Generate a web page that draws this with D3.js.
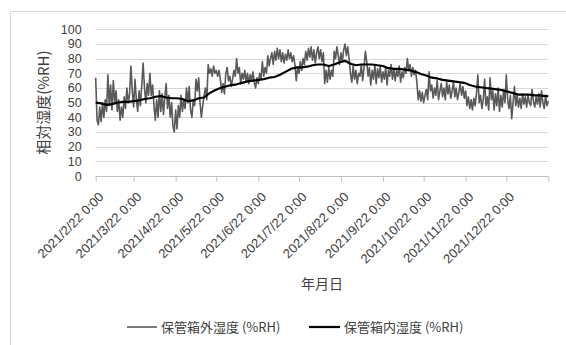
<!DOCTYPE html>
<html><head><meta charset="utf-8">
<script src="https://cdn.jsdelivr.net/npm/d3@7"></script>
<style>
html,body{margin:0;padding:0;background:#fff;}
svg{display:block;}
text{font-family:"Noto Sans CJK JP","Noto Sans",sans-serif;fill:#404040;}
</style></head>
<body><svg id="c" width="566" height="345"></svg>
<script>
// ---- data ----
const startDate = "2021-02-22";
const endDate = "2022-01-22";
const yTicks = [0,10,20,30,40,50,60,70,80,90,100];
const xTickDates = ["2021-02-22","2021-03-22","2021-04-22","2021-05-22","2021-06-22","2021-07-22","2021-08-22","2021-09-22","2021-10-22","2021-11-22","2021-12-22"];
const xTickLabels = ["2021/2/22 0:00","2021/3/22 0:00","2021/4/22 0:00","2021/5/22 0:00","2021/6/22 0:00","2021/7/22 0:00","2021/8/22 0:00","2021/9/22 0:00","2021/10/22 0:00","2021/11/22 0:00","2021/12/22 0:00"];
const seriesNames = ["保管箱外湿度 (%RH)","保管箱内湿度 (%RH)"];
// outside humidity, one value per day from startDate
const outsideValues = [
 67,38,35,47,37,50,40,52,44,69,
 48,62,45,65,50,58,44,52,38,47,
 40,54,46,60,50,56,75,58,47,66,
 52,44,58,48,62,77,60,50,63,55,
 70,55,62,48,38,52,40,58,44,56,
 42,54,63,46,55,40,50,34,30,45,
 32,48,40,55,44,52,46,60,50,61,
 45,40,52,48,66,58,67,50,40,48,
 55,60,52,76,70,73,68,75,70,72,
 68,72,66,57,63,56,70,74,65,68,
 61,66,72,68,80,70,74,63,70,66,
 72,64,70,63,69,65,71,64,60,67,
 63,70,66,78,68,74,70,82,75,80,
 84,76,85,79,87,80,86,78,84,77,
 83,79,86,80,84,78,82,76,65,74,
 70,78,72,80,76,85,79,87,81,88,
 79,86,77,84,88,80,86,78,84,63,
 72,64,74,66,72,68,85,80,88,82,
 76,84,78,86,90,82,88,80,70,64,
 75,66,72,63,70,68,76,65,74,85,
 78,68,74,62,72,66,76,63,73,67,
 75,64,71,66,74,62,72,68,76,66,
 73,65,72,68,75,64,71,67,74,70,
 80,72,76,68,74,69,72,64,52,58,
 51,57,50,55,59,52,71,58,62,53,
 60,55,65,52,58,63,54,60,52,64,
 56,62,53,58,64,54,60,52,57,63,
 55,61,53,58,48,54,46,52,45,53,
 48,56,69,50,55,46,52,66,48,54,
 45,67,52,58,45,56,48,60,44,55,
 47,58,50,69,52,46,55,39,50,61,
 48,55,47,53,46,56,49,54,47,55,
 50,48,59,51,47,54,49,56,47,58,
 50,46,55,48,51
];
// inside humidity, day offsets from startDate and values
const insideDays = [0,4,8,12,16,20,24,28,32,36,40,44,48,52,56,60,64,68,72,76,80,84,88,92,96,100,104,108,112,116,120,124,128,132,136,140,144,148,152,156,160,164,168,172,176,180,184,188,192,196,200,204,208,212,216,220,224,228,232,236,240,244,248,252,256,260,264,268,272,276,280,284,288,292,296,300,304,308,312,316,320,324,328,332,334];
const insideValues = [50,49.5,48.5,49,50,50.5,50.5,51,51.5,52.5,53,54,54.5,53.5,53,53,52.5,51,51.5,53,53.5,56.5,58.5,60,61,62,62.5,63.5,64.5,65,65.5,66,67,67.5,69,71,73,74,74,74.5,75.5,76,76,75,76,77.5,78.5,76.5,75.5,76,76,76,75.5,75,73.5,73,73,72.5,72,71,69.5,68.5,67,66.5,65.5,65,64.5,64,63.5,62,61,60.5,60,59.5,59,58.5,57.5,56.5,55.5,55.5,55.5,55,55,54.5,54.5];

// ---- chart ----
const svg = d3.select("#c");
const parse = d3.utcParse("%Y-%m-%d");
const t0 = parse(startDate);
const x = d3.scaleUtc().domain([t0, parse(endDate)]).range([95.7, 548.3]);
const y = d3.scaleLinear().domain([0,100]).range([176, 29.3]);
const numFont = "'Liberation Sans',Arial,sans-serif";

// outer border
svg.append("rect").attr("x",10.5).attr("y",11.5).attr("width",700).attr("height",500)
  .attr("fill","none").attr("stroke","#d9d9d9").attr("stroke-width",1);

// gridlines
svg.append("g").selectAll("line").data(yTicks.filter(d=>d>0)).join("line")
  .attr("x1",x.range()[0]).attr("x2",x.range()[1])
  .attr("y1",d=>Math.round(y(d))+0.5).attr("y2",d=>Math.round(y(d))+0.5)
  .attr("stroke","#d9d9d9").attr("stroke-width",1);

// y axis labels
const yAxis = d3.axisLeft(y).tickValues(yTicks).tickSize(0).tickPadding(14);
const gy = svg.append("g").attr("transform",`translate(${x.range()[0]},0)`).call(yAxis);
gy.select(".domain").remove();
gy.selectAll("text").style("font-size","12.5px").attr("fill","#404040")
  .style("font-family",numFont);

// x axis
const tickDates = xTickDates.map(parse).concat([parse(endDate)]);
const xAxis = d3.axisBottom(x).tickValues(tickDates).tickSize(5)
  .tickFormat((d,i)=> i < xTickLabels.length ? xTickLabels[i] : "");
const gx = svg.append("g").attr("transform",`translate(0,${Math.round(y(0))+0.5})`).call(xAxis);
gx.select(".domain").attr("stroke","#bfbfbf").attr("d",`M${x.range()[0]},0H${x.range()[1]}`);
gx.selectAll(".tick line").attr("stroke","#bfbfbf");
gx.selectAll(".tick text")
  .style("font-size","13px").style("font-family",numFont).attr("fill","#404040")
  .attr("text-anchor","end")
  .attr("dy","0.35em").attr("y",0)
  .attr("transform","translate(5,18) rotate(-45)")
  .attr("x",0);

// lines
const outsideData = outsideValues.map((v,i)=>({d:d3.utcDay.offset(t0,i), v}));
const insideData = insideDays.map((dd,i)=>({d:d3.utcDay.offset(t0,dd), v:insideValues[i]}));
const line = d3.line().x(p=>x(p.d)).y(p=>y(p.v));
svg.append("path").datum(outsideData).attr("d",line)
  .attr("fill","none").attr("stroke","#595959").attr("stroke-width",1.6).attr("stroke-linejoin","round");
svg.append("path").datum(insideData).attr("d",line)
  .attr("fill","none").attr("stroke","#000").attr("stroke-width",2.2).attr("stroke-linejoin","round");

// axis titles
svg.append("text").attr("transform","translate(44,102.6) rotate(-90)")
  .attr("text-anchor","middle").attr("dy","0.35em").style("font-size","15px").attr("fill","#595959").text("相対湿度(%RH)");
svg.append("text").attr("x",322).attr("y",289).attr("text-anchor","middle")
  .style("font-size","14px").attr("fill","#595959").text("年月日");

// legend
const leg = [{x1:127,x2:157,tx:161,c:"#595959",w:1.6},{x1:309,x2:340,tx:344,c:"#000",w:2.2}];
leg.forEach((l,i)=>{
  svg.append("line").attr("x1",l.x1).attr("x2",l.x2).attr("y1",327).attr("y2",327)
    .attr("stroke",l.c).attr("stroke-width",l.w);
  svg.append("text").attr("x",l.tx).attr("y",327).attr("dy","0.35em")
    .style("font-size","13px").attr("fill","#595959").text(seriesNames[i]);
});
</script></body></html>
